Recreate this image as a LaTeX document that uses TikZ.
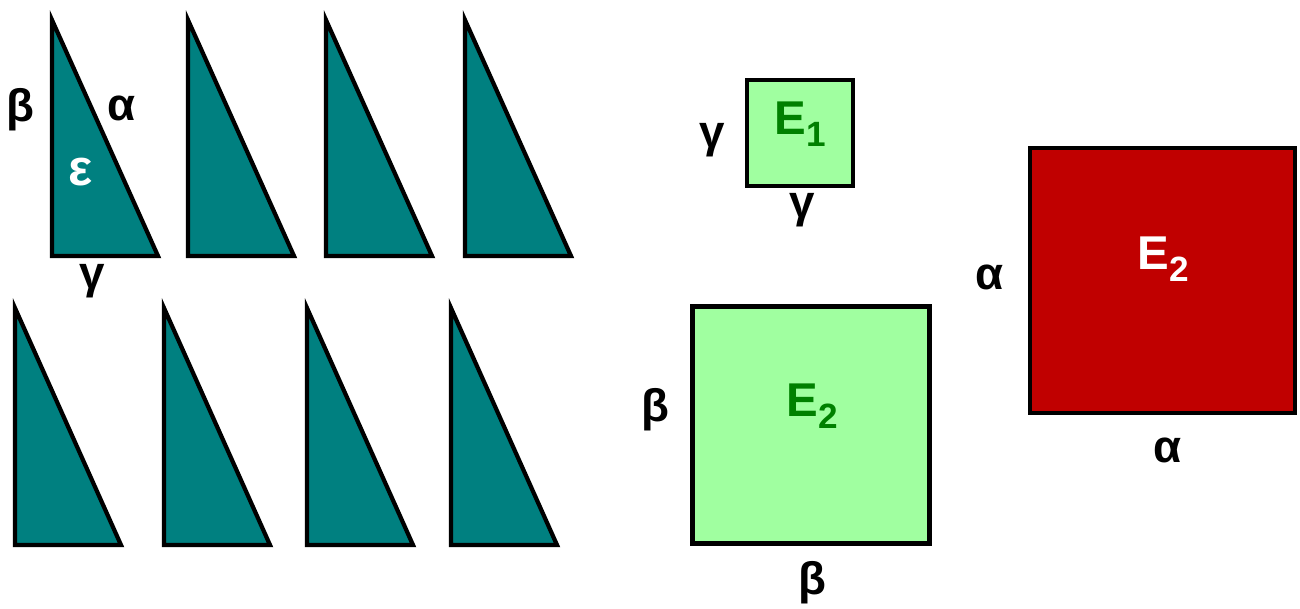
\documentclass[tikz,border=0pt]{standalone}
\usepackage{fontspec}
\setmainfont{Liberation Sans}
\usetikzlibrary{positioning}
\definecolor{triTeal}{RGB}{0,128,128}
\definecolor{sqGreen}{RGB}{160,255,160}
\definecolor{txtGreen}{RGB}{0,128,0}
\definecolor{sqRed}{RGB}{192,0,0}
\newcommand{\Esub}[1]{E\raisebox{-0.26em}{\fontsize{20}{20}\selectfont #1}}

\begin{document}
\begin{tikzpicture}[x=0.02cm,y=-0.02cm,
  tri/.style={fill=triTeal,draw=black,line width=2.4pt},
  sqbox/.style={draw=black,line width=2.4pt,inner sep=0pt},
  side/.style={inner sep=0pt,font=\fontsize{26}{26}\selectfont\bfseries},
  area/.style={inner sep=0pt,font=\fontsize{27}{27}\selectfont\bfseries}]
\useasboundingbox (0,0) rectangle (1300,608);
% upper row of triangles
\foreach \xx in {52,188,326,465}
  \draw[tri] (\xx,20) -- (\xx,256) -- (\xx+106,256) -- cycle;
% lower row of triangles
\foreach \xx in {15,164,307,451}
  \draw[tri] (\xx,308) -- (\xx,545) -- (\xx+106,545) -- cycle;
\node[side] (triB) at (20,110) {β};
\node[side] (triA) at (122,108) {α};
\node[side] (triC) at (92,281) {γ};
\node[side,white,font=\fontsize{29}{29}\selectfont\bfseries] (triE) at (81,172) {ε};
% squares
\node[sqbox,fill=sqGreen,minimum size=2.12cm] (sqOne) at (800,133) {};
\node[sqbox,fill=sqGreen,minimum size=4.74cm] (sqTwo) at (811,425) {};
\node[sqbox,fill=sqRed,minimum size=5.3cm] (sqRed) at (1162.5,280.5) {};
\node[area,txtGreen] (eOne) at (800,124) {\Esub{1}};
\node[area,txtGreen] (eTwo) at (812,406) {\Esub{2}};
\node[area,white] (eRed) at (1163,259) {\Esub{2}};
\node[side] (sOneL) at (712,140) {γ};
\node[side] (sOneB) at (802,210) {γ};
\node[side] (sTwoL) at (655,410) {β};
\node[side] (sTwoB) at (812,583) {β};
\node[side] (sRedL) at (990,277) {α};
\node[side] (sRedB) at (1168,450) {α};
\end{tikzpicture}
\end{document}
